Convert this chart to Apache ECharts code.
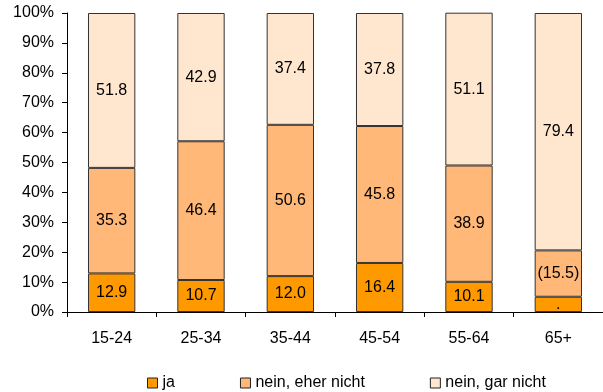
<!DOCTYPE html>
<html>
<head>
<meta charset="utf-8">
<title>Altersgruppen</title>
<script src="https://cdn.jsdelivr.net/npm/echarts@6/dist/echarts.min.js"></script>
<style>body{margin:0;background:#fff}</style>
</head>
<body>
<div id="main" style="width:603px;height:392px;"></div>
<script>
var categories = ['15-24', '25-34', '35-44', '45-54', '55-64', '65+'];
var ja = [12.9, 10.7, 12.0, 16.4, 10.1, 5.1];
var eherNicht = [35.3, 46.4, 50.6, 45.8, 38.9, 15.5];
var garNicht = [51.8, 42.9, 37.4, 37.8, 51.1, 79.4];
// labels as printed (65+ marked as unreliable)
var jaLabels = ['12.9', '10.7', '12.0', '16.4', '10.1', '.'];
var eherLabels = ['35.3', '46.4', '50.6', '45.8', '38.9', '(15.5)'];
var garLabels = ['51.8', '42.9', '37.4', '37.8', '51.1', '79.4'];

var chart = echarts.init(document.getElementById('main'));
var font = 'Liberation Sans, Arial, sans-serif';

function bar(name, data, labels, color) {
    return {
        name: name,
        type: 'bar',
        stack: 'all',
        barWidth: '53%',
        data: data,
        itemStyle: {color: color, borderColor: '#333', borderWidth: 1},
        label: {
            show: true,
            position: 'inside',
            color: '#000',
            fontFamily: font,
            fontSize: 16,
            formatter: function (p) { return labels[p.dataIndex]; }
        }
    };
}

chart.setOption({
    animation: false,
    grid: {left: 67, right: 0, top: 13, bottom: 80},
    legend: {
        left: 142,
        top: 370,
        itemWidth: 10,
        itemHeight: 10,
        itemGap: 65,
        icon: 'rect',
        itemStyle: {borderColor: '#222', borderWidth: 1},
        textStyle: {fontFamily: font, fontSize: 16, color: '#000'}
    },
    xAxis: {
        type: 'category',
        data: categories,
        axisLine: {lineStyle: {color: '#000'}},
        axisTick: {show: true, length: 5, lineStyle: {color: '#000'}},
        axisLabel: {color: '#000', fontFamily: font, fontSize: 16, margin: 19}
    },
    yAxis: {
        type: 'value',
        min: 0,
        max: 100,
        interval: 10,
        splitLine: {show: false},
        axisLine: {show: true, lineStyle: {color: '#000'}},
        axisTick: {show: true, length: 5, lineStyle: {color: '#000'}},
        axisLabel: {color: '#000', fontFamily: font, fontSize: 16, margin: 13, formatter: '{value}%'}
    },
    series: [
        bar('ja', ja, jaLabels, '#FF9900'),
        bar('nein, eher nicht', eherNicht, eherLabels, '#FFB878'),
        bar('nein, gar nicht', garNicht, garLabels, '#FFE6CF')
    ]
});
</script>
</body>
</html>
